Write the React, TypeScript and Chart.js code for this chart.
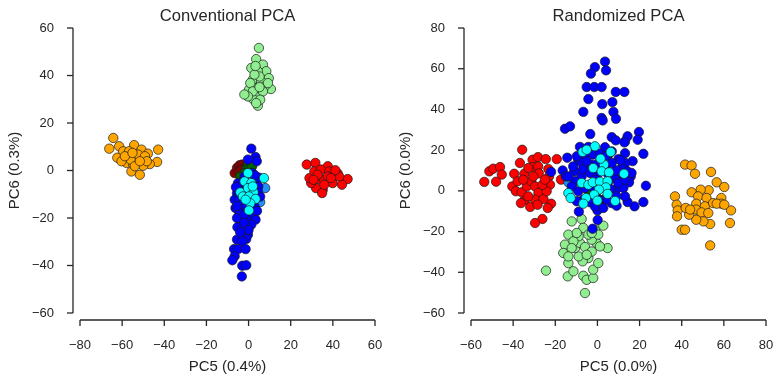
import React, { useEffect, useRef } from "react";
import { Chart, registerables } from "chart.js";
Chart.register(...registerables);

type P = [number, number];

// ---------- Conventional PCA (PC5 vs PC6) ----------
const convTitle = "Conventional PCA";
const convXLabel = "PC5 (0.4%)";
const convYLabel = "PC6 (0.3%)";
const convXRange = [-80, 60];
const convYRange = [-60, 60];

const convOrange: P[] = [
  [-64.2, 13.7], [-66.1, 9.2], [-61.4, 10.2], [-62.3, 5.4], [-54.3, 10.7], [-50.8, 8.8], [-47.8, 7.1],
  [-42.9, 8.8], [-43.4, 3.6], [-55.6, -0.4], [-51.6, -1.8], [-46.9, 2.7], [-57.1, 7.1], [-57.9, 3.2],
  [-54.8, 2.7], [-50, 2], [-53.2, 5.3], [-59.5, 8.1], [-56.7, 8.1], [-52.4, 6.7], [-49.2, 6], [-56, 4.6],
  [-60.3, 3.9], [-54, 1.8], [-48.3, 3.9], [-51.6, 3.9], [-58.7, 6], [-55.1, 7.4],
];
const convLightGreen: P[] = [
  [4.9, 51.6], [3.6, 46.9], [1.3, 43.2], [6.8, 44.6], [8.4, 41.8], [9.6, 38.9], [10.6, 34.3], [4.4, 41.8],
  [2, 38.2], [6, 37.5], [7.6, 35.4], [3.6, 34.7], [-1.1, 31.9], [0.8, 31.2], [4.9, 31.2], [2.5, 29.8],
  [4.4, 27.3], [0.2, 34], [5.2, 39.6], [2.8, 40.4], [0.8, 36.8], [6.8, 33.3], [2, 33.3], [5.5, 29.8],
  [3.3, 44], [9.2, 36.8], [3.6, 28.4], [-0.3, 31.2], [5.2, 35.1], [-2, 32],
];
const convRed: P[] = [
  [27.6, 2.5], [31.7, 3.2], [37.6, 1.8], [39.9, -1], [42.3, -1.3], [47, -3.6], [44.3, -6], [35.2, -8.1],
  [32, -7.4], [29.7, -5.3], [33.6, -3.6], [35.9, -3.9], [39.9, -5.3], [28.9, -3.2], [31.2, -0.4], [34.3, 0.4],
  [38.2, -0.4], [43, -2.5], [32.8, -1.8], [37.6, -2.5], [34.9, -9.5], [41.2, 0.1], [30.8, -3.9], [35.9, -6],
  [39.1, -3.2],
];
const convDarkRed: P[] = [
  [-6.6, -1.1], [-5.5, 1.1], [-4.3, 2.2], [-3, 2.5], [-4.6, -0.4], [-2.3, 1.1], [-3.5, 0.1],
];
const convDarkGreen: P[] = [
  [-0.3, 2.5], [-1.1, 0.4], [1.3, -0.4], [-3.9, -2.5], [-1.9, -1.1], [0.5, 1.1], [1.7, 1.8],
];
const convDodger: P[] = [[7.9, -7.4], [5.5, -13.3], [4.4, -6.7]];
const convBlue: P[] = [
  [1.3, 9.2], [3.3, 5.7], [-0.3, 4.6], [1.7, -1.1], [3.3, -3.9], [4.6, -6.7], [-5, -5.3],
  [-5.5, -9.5], [-6.6, -12.3], [-6.2, -15.8], [-3.5, -16.5], [2.8, -15.1], [-0.3, -17.9], [1.7, -19.3],
  [3.3, -20.7], [-3.9, -20.7], [-1.1, -20.7], [1.3, -22.8], [-5.3, -23.9], [-2.2, -24.2], [-0.3, -27],
  [-1.1, -28.8], [-5.5, -29.1], [-3, -29.8], [-6.9, -33.1], [-5, -33.1], [-1.4, -33.1], [-6.6, -36.1],
  [-7.7, -37.8], [-3, -40.1], [-1.1, -39.9], [-3.2, -44.6], [-4.6, -12.3], [-2.7, -8.1], [-1.1, -10.9],
  [2.8, -10.9], [0.5, -13.8], [-2.7, -13.8], [3.9, 3.9], [-1.9, -2.5], [0.5, -6.7], [-4.3, -17.9],
  [-5.5, -20], [-1.9, -18.6], [2.8, -12.3], [4.5, -9], [5, -3], [-3, -5], [-4, -9.5], [-6, -7],
  [-5.5, -15], [4, -17], [-2, -22], [0, -25], [-4, -26], [2, -8], [-1, -15], [3, -2], [5.5, -11],
];
const convCyan: P[] = [
  [-0.3, -1.1], [7.3, -3.2], [-1.9, -4.6], [1.3, -5.3], [-3.9, -9.2], [-0.3, -7.4], [2.4, -9.2],
  [-2.7, -10.9], [0.2, -10.9], [3.3, -12], [0.8, -13.8], [0.2, -16.8], [-1.4, -12.3], [2, -6.7],
];

// ---------- Randomized PCA (PC5 vs PC6) ----------
const randTitle = "Randomized PCA";
const randXLabel = "PC5 (0.0%)";
const randYLabel = "PC6 (0.0%)";
const randXRange = [-60, 80];
const randYRange = [-60, 80];

const randOrange: P[] = [
  [36.8, -2.7], [37.6, -6.8], [38.1, -9.6], [37.8, -12.5], [40, -19.1], [41.6, -19.1], [41.6, 12.9],
  [44.7, 12.5], [46.3, 8.4], [53.9, 9.3], [56.6, 4.2], [60.2, 1.9], [52.8, 0.3], [49, 0.6], [44.7, -0.7],
  [47.8, -2.7], [46.9, -6.3], [51.8, -3.5], [51, -7.6], [46.9, -9.2], [49.4, -10.6], [52.6, -10.9],
  [54.9, -6], [58.8, -3.5], [58.8, -6.3], [56.6, -6.3], [63.4, -9.6], [62.9, -15.8], [53.5, -16.3],
  [53.5, -26.8], [50.3, -15], [46.9, -14.2], [43.5, -11.7], [41.9, -8.4], [44, -9.2], [60.2, -6.8],
];
const randLightGreen: P[] = [
  [-12.2, -15], [-7.5, -13.8], [-6.7, -18.2], [-1.2, -19.1], [2.8, -17.1], [4.8, -28.1], [-13.8, -21.5],
  [-15.4, -26.4], [-16.2, -30.5], [-13.8, -35.5], [-14.1, -42], [-11.4, -39.5], [-24.4, -39.2],
  [-5.9, -50.2], [-6.7, -41.7], [-5.1, -43.7], [-2, -42.8], [-2, -38.7], [0.4, -35.5], [-4.3, -33],
  [-7, -34.6], [-8.9, -32.2], [-10.6, -28.1], [-8.3, -25.6], [-5.9, -27.6], [-2.7, -29.8], [-0.4, -25.6],
  [1.2, -27.3], [-2.7, -24], [-4.3, -21.5], [-8.9, -22.3], [-11.4, -24.8], [-12.2, -28.1], [-9.8, -20.7],
  [0.4, -21.5], [-2.7, -20.7], [-5.1, -31.4], [-13.8, -32.2],
];
const randRed: P[] = [
  [-53.7, 4.4], [-51.3, 9.6], [-49.4, 10.9], [-46.2, 11.7], [-45.4, 8], [-48.1, 4.5], [-40.4, 2.2],
  [-39.5, 8.4], [-37.9, 4.7], [-36.8, 13.7], [-35.7, 20.2], [-34.7, 8.4], [-34.4, -4.3], [-31.9, -7.9],
  [-30.8, 15.3], [-28.2, 16.6], [-30.8, 11.7], [-28.1, 12], [-27.8, 8.6], [-24.5, 15.6], [-23.3, 10.7],
  [-23, 7.1], [-22.5, 3], [-22, -6.3], [-23.6, -8.4], [-26.1, -13.8], [-29.6, -15.8], [-19.3, 15.6],
  [-17.3, 5.5], [-38.7, -0.2], [-35.9, -0.7], [-33.5, 2.2], [-31.4, 4.7], [-29.6, 2.2], [-28, -1],
  [-29.6, -4.3], [-25.6, -4], [-24.1, -0.2], [-26.1, 3], [-32.8, -2.7], [-28.4, -6.8], [-24.9, 5.5],
  [-35.2, 5.5], [-36.3, -6], [-30.4, 7.1], [-32.8, 11.2],
];
const randDarkRed: P[] = [[3.6, -4], [2.3, -4.5]];
const randDarkGreen: P[] = [[-4.3, -0.2], [-0.8, -1.9], [-3, 0.5]];
const randDodger: P[] = [[-13.8, 4.2], [13.1, 24.3]];
const randBlue: P[] = [
  [3.6, 63.5], [-1.2, 60.8], [4.1, 59.2], [-3.1, 57.6], [-5.1, 51], [-1.5, 51], [2, 51], [8.7, 48.6],
  [12.8, 48.6], [-4.3, 45.1], [2.3, 42.6], [7.1, 43.6], [-6.7, 38.8], [7.6, 38.8], [2, 35.8], [2.5, 34.6],
  [8.8, 35.4], [-15.4, 30.5], [-13, 31.7], [-3.4, 27.9], [6.8, 26.4], [8.7, 24.8], [14.3, 26.8],
  [12.8, 23.8], [19.7, 28.9], [19.1, 25.1], [21.8, 18.2], [23, 2.5], [21.8, -5.5], [17.6, -7.6],
  [14.3, -5.5], [16.7, 14.6], [-14.3, 16.3], [-16.5, 10], [-15, 7.1], [-22, 9.3], [-8.8, -10.2],
  [0.1, -14.3], [-2.3, -18.6], [0, -9.6],
  [-8.3, 21.6], [-4.3, 21.6], [3.6, 21.4], [-9.1, 15.3], [-5.9, 16.9], [-2, 17.8], [1.2, 18.3],
  [5.2, 17.8], [10, 15.6], [13.2, 13.7], [-11, 9.6], [-7.5, 14], [-5.4, 11.2], [-2.7, 12.9], [0.4, 13.4],
  [3.6, 12], [6.8, 13.7], [11.5, 11.2], [14.2, 9.6], [15.8, 7.1], [15, 4.2], [11.5, 5.5], [8.4, 6.3],
  [5.2, 8], [0.4, 8.8], [-3.5, 8.8], [-7.5, 7.1], [-10.6, 4.7], [-12.2, 2.2], [-9.1, -0.2], [-5.9, 1.4],
  [-2.7, 2.2], [1.2, 3], [5.2, 4.7], [8.8, 0.6], [12.3, 1.4], [13.1, -2.7], [9.1, -2.7], [6.8, -6],
  [4.4, -4.3], [0.4, -4.3], [-3.5, -5.6], [-6.7, -4.3], [-9.8, -5.1], [-1.2, -7.6], [2.8, -8.4],
  [9.1, -7.3], [9.9, 3.8], [-9.8, 17], [13.1, 5.5], [16.2, 8.8], [-13.8, 7.1], [-5.1, 14.5], [3.6, 16.9],
  [6.8, 19.4], [13.1, 18.5], [-11.5, 12], [-7, 10.5], [9, 10], [11, 15], [-1, 5.5], [6, 1],
];
const randCyan: P[] = [
  [-1.2, 21.9], [-7, 19.1], [6.3, 19.1], [-2, 11.2], [3.1, 12.9], [2, 9.6], [5.5, 9.1], [12.6, 8.4],
  [-7.5, 3.9], [-4.3, 3], [-2.2, 4.2], [1.2, 4.5], [4.8, 4.7], [4, 1.7], [0.7, 0.6], [-1.6, -1.9],
  [-5.4, -3.5], [-6.7, -6.3], [0, -4.8], [4.8, -1.5], [8.4, -5], [-13.8, -1.1], [-12.7, -3.5],
  [1.5, 15.8], [-5.1, 20.2],
];

// ---------- styling ----------
const TEXT = "#262626";
const FONT = "'Liberation Sans', Arial, Helvetica, sans-serif";

const spinePlugin = {
  id: "offsetSpines",
  afterDraw(chart: any) {
    const { ctx, chartArea, scales } = chart;
    const xs = scales.x;
    const ys = scales.y;
    const off = 7;
    const tl = 6;
    ctx.save();
    ctx.strokeStyle = TEXT;
    ctx.lineWidth = 1.3;
    // left spine
    const sx = chartArea.left - off;
    ctx.beginPath();
    ctx.moveTo(sx, ys.getPixelForValue(ys.max));
    ctx.lineTo(sx, ys.getPixelForValue(ys.min));
    ctx.stroke();
    ys.ticks.forEach((t: any) => {
      const p = ys.getPixelForValue(t.value);
      ctx.beginPath();
      ctx.moveTo(sx - tl, p);
      ctx.lineTo(sx, p);
      ctx.stroke();
    });
    // bottom spine
    const sy = chartArea.bottom + off;
    ctx.beginPath();
    ctx.moveTo(xs.getPixelForValue(xs.min), sy);
    ctx.lineTo(xs.getPixelForValue(xs.max), sy);
    ctx.stroke();
    xs.ticks.forEach((t: any) => {
      const p = xs.getPixelForValue(t.value);
      ctx.beginPath();
      ctx.moveTo(p, sy);
      ctx.lineTo(p, sy + tl);
      ctx.stroke();
    });
    ctx.restore();
  },
};

const fmt = (v: any) => (Number(v) < 0 ? "\u2212" + Math.abs(Number(v)) : String(v));

function makeDatasets(groups: [P[], string][]) {
  const n = groups.length;
  return groups.map(([pts, color], i) => ({
    data: pts.map(([x, y]) => ({ x, y })),
    backgroundColor: color,
    borderColor: "#1a1a1a",
    borderWidth: 0.7,
    pointRadius: 4.7,
    pointHoverRadius: 4.7,
    order: n - i,
  }));
}

// invisible tick marks used only to push labels away from the plot area
const hiddenGrid = (len: number) => ({
  display: true,
  drawOnChartArea: false,
  drawTicks: true,
  tickLength: len,
  color: "rgba(0,0,0,0)",
  tickColor: "rgba(0,0,0,0)",
});

function Panel(props: {
  title: string;
  xLabel: string;
  yLabel: string;
  xr: number[];
  yr: number[];
  groups: [P[], string][];
  left: number;
}) {
  const ref = useRef<HTMLCanvasElement>(null);
  useEffect(() => {
    const chart = new Chart(ref.current as HTMLCanvasElement, {
      type: "scatter",
      data: { datasets: makeDatasets(props.groups) as any },
      options: {
        animation: false,
        responsive: false,
        devicePixelRatio: 1,
        layout: { padding: { left: 0, right: 17, top: 0, bottom: 0 } },
        plugins: {
          legend: { display: false },
          tooltip: { enabled: false },
          title: {
            display: true,
            text: props.title,
            fullSize: false,
            color: TEXT,
            font: { family: FONT, size: 16.6, weight: "normal", lineHeight: 1.2 },
            padding: { top: 6, bottom: 2.1 },
          },
        },
        scales: {
          x: {
            type: "linear",
            min: props.xr[0],
            max: props.xr[1],
            grid: hiddenGrid(25) as any,
            border: { display: false },
            ticks: {
              stepSize: 20,
              padding: 0,
              color: TEXT,
              font: { family: FONT, size: 13 },
              callback: fmt,
              maxRotation: 0,
            },
            title: {
              display: true,
              text: props.xLabel,
              color: TEXT,
              font: { family: FONT, size: 15, lineHeight: 1.2 },
              padding: { top: 0, bottom: 7 },
            },
            afterFit: (s: any) => {
              s.height = 70;
            },
          },
          y: {
            type: "linear",
            min: props.yr[0],
            max: props.yr[1],
            grid: hiddenGrid(26) as any,
            border: { display: false },
            ticks: {
              stepSize: 20,
              padding: 0,
              color: TEXT,
              font: { family: FONT, size: 13 },
              callback: fmt,
            },
            title: {
              display: true,
              text: props.yLabel,
              color: TEXT,
              font: { family: FONT, size: 15, lineHeight: 1.2 },
              padding: { top: 6, bottom: 0 },
            },
            afterFit: (s: any) => {
              s.width = 80;
            },
          },
        },
      },
      plugins: [spinePlugin],
    });
    return () => chart.destroy();
  }, []);
  return (
    <canvas
      ref={ref}
      width={392}
      height={383}
      style={{ position: "absolute", left: props.left, top: 0, width: 392, height: 383 }}
    />
  );
}

export default function App() {
  return (
    <div style={{ position: "fixed", left: 0, top: 0, width: 784, height: 383, background: "#fff" }}>
      <Panel
        title={convTitle}
        xLabel={convXLabel}
        yLabel={convYLabel}
        xr={convXRange}
        yr={convYRange}
        left={0}
        groups={[
          [convOrange, "#FFA500"],
          [convLightGreen, "#90EE90"],
          [convRed, "#FF0000"],
          [convDarkRed, "#8B0000"],
          [convDarkGreen, "#006400"],
          [convDodger, "#1E90FF"],
          [convBlue, "#0000FF"],
          [convCyan, "#00FFFF"],
        ]}
      />
      <Panel
        title={randTitle}
        xLabel={randXLabel}
        yLabel={randYLabel}
        xr={randXRange}
        yr={randYRange}
        left={391}
        groups={[
          [randOrange, "#FFA500"],
          [randLightGreen, "#90EE90"],
          [randRed, "#FF0000"],
          [randDarkRed, "#8B0000"],
          [randDarkGreen, "#006400"],
          [randDodger, "#1E90FF"],
          [randBlue, "#0000FF"],
          [randCyan, "#00FFFF"],
        ]}
      />
    </div>
  );
}
